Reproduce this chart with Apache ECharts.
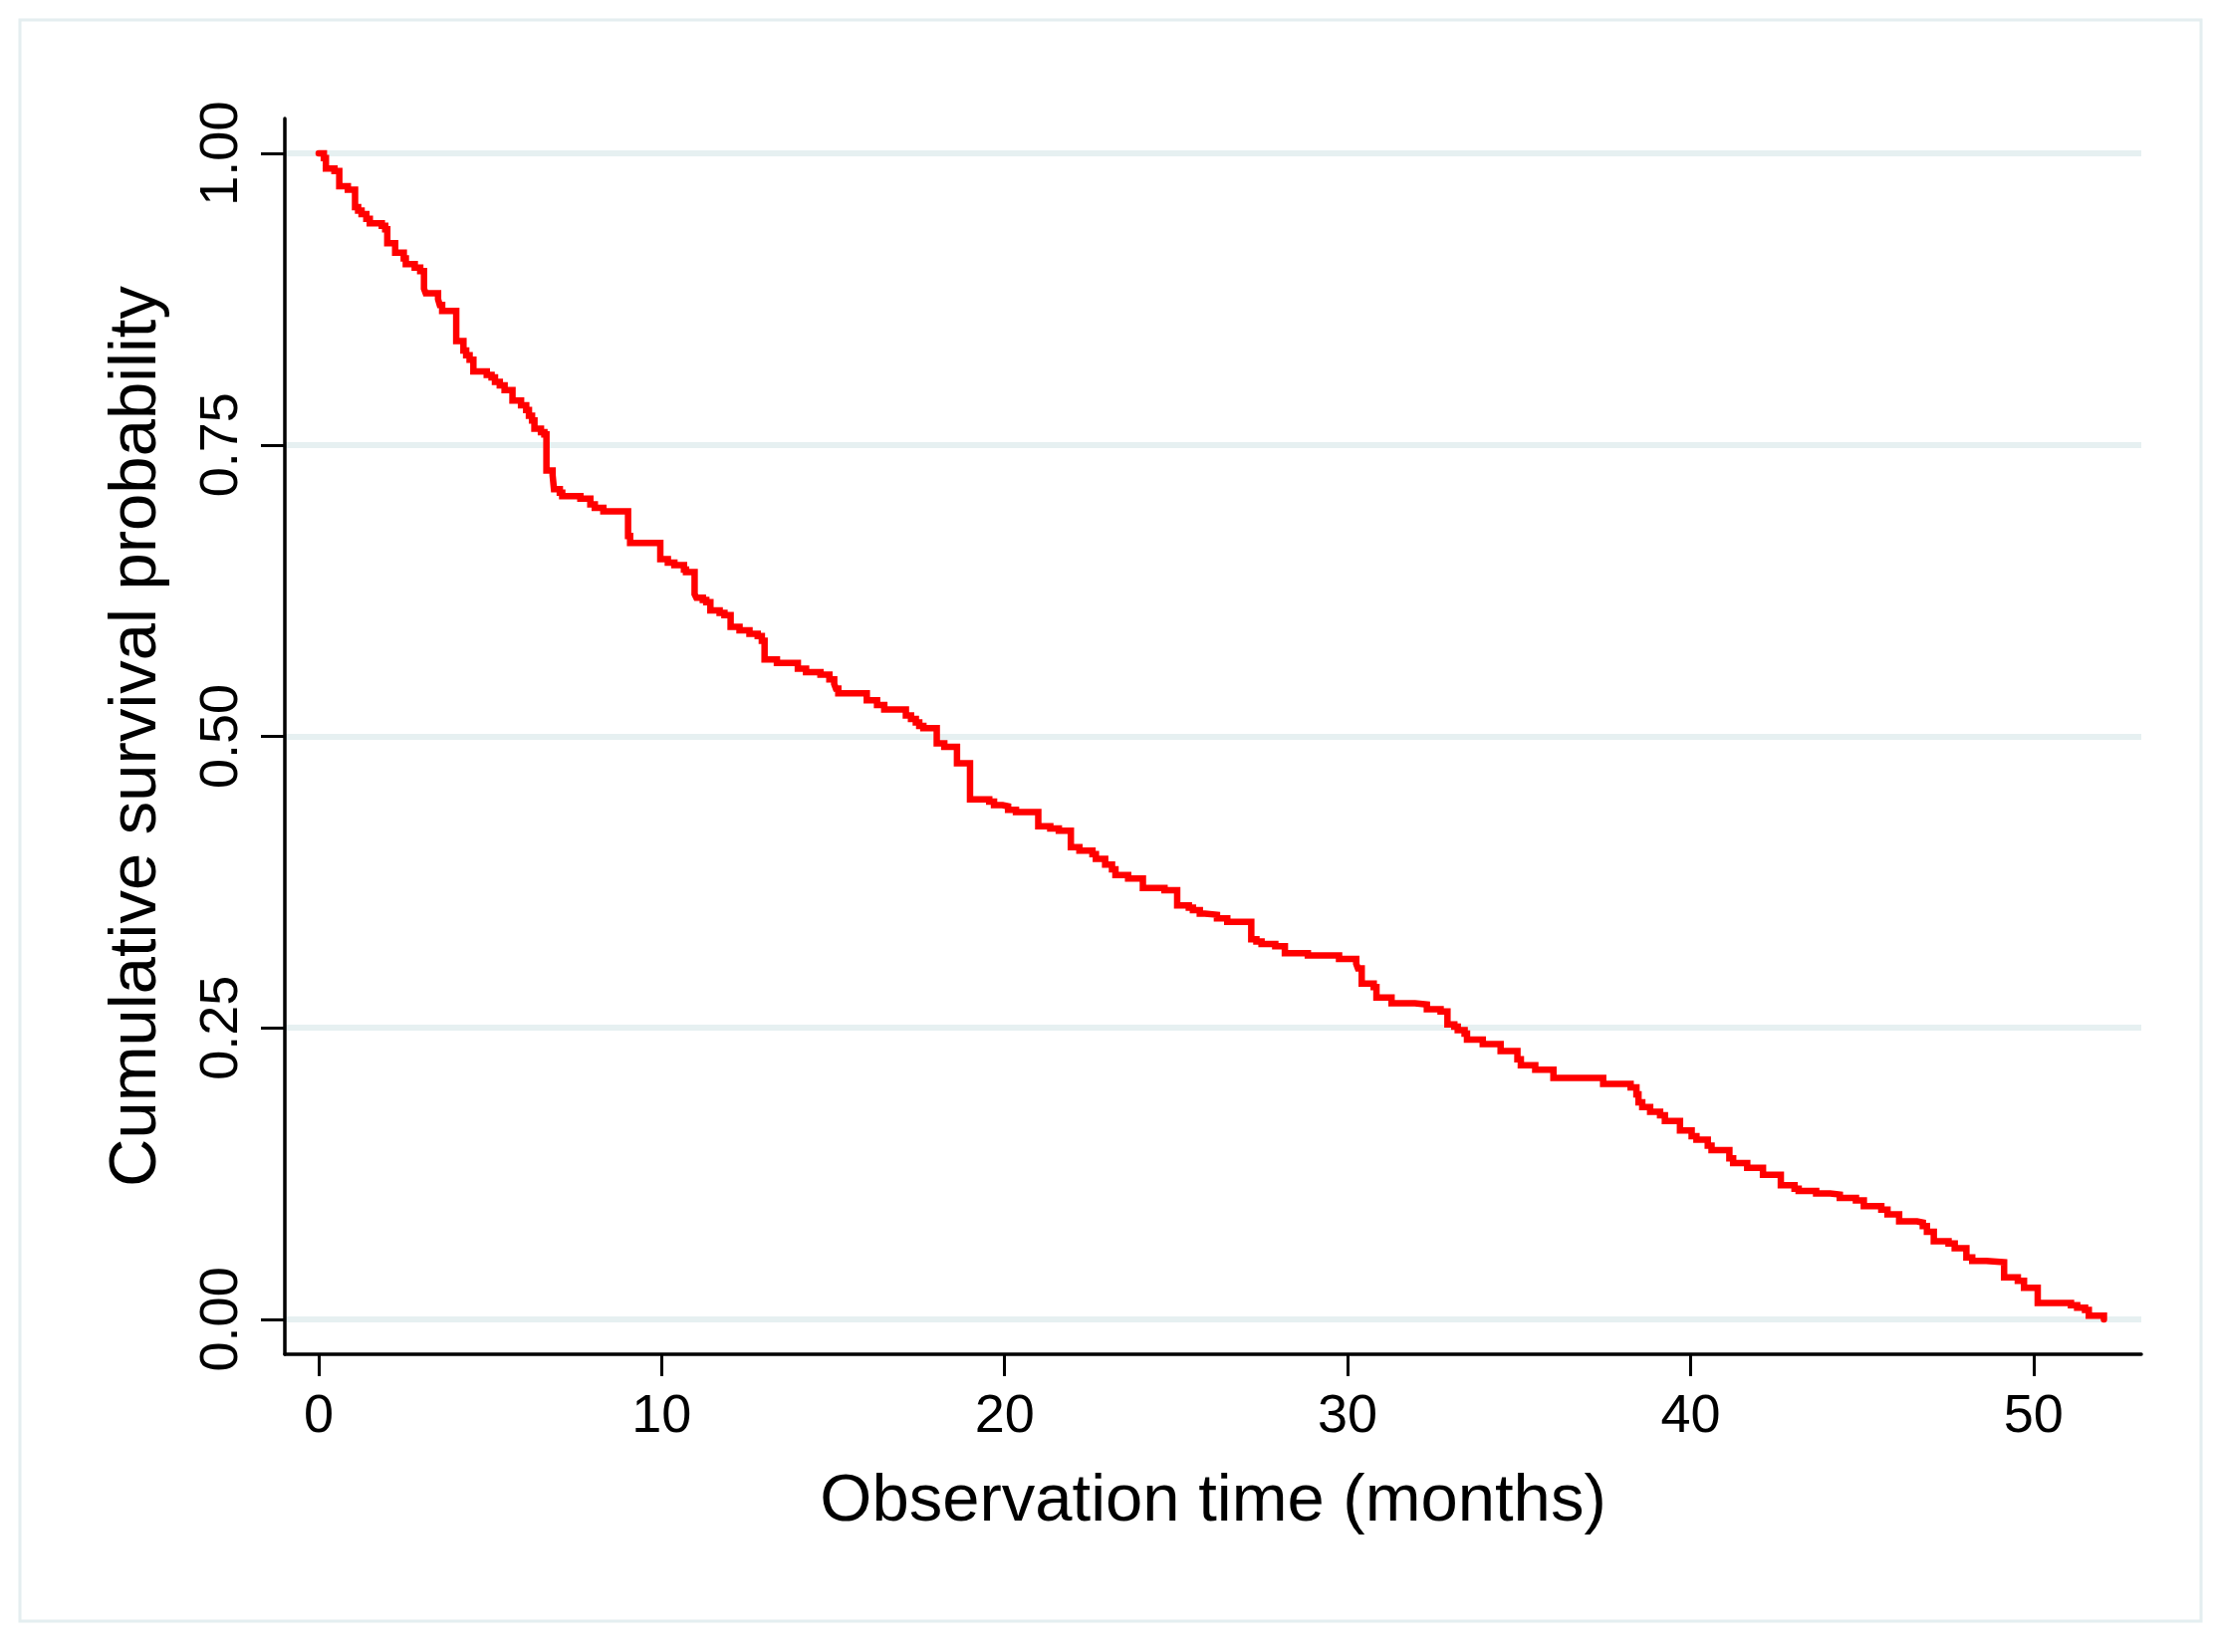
<!DOCTYPE html>
<html>
<head>
<meta charset="utf-8">
<title>Kaplan-Meier survival</title>
<script src="https://cdn.jsdelivr.net/npm/echarts@6/dist/echarts.min.js"></script>
<style>
  html, body { margin: 0; padding: 0; background: #ffffff; }
  #chart { width: 2223px; height: 1659px; }
</style>
</head>
<body>
<div id="chart"></div>
<script>
// Event times (months) and survival probability after each step
const times = [
  0, 0.15, 0.21, 0.46, 0.60, 0.85, 1.06, 1.15, 1.25, 1.39, 1.49, 1.84, 1.94, 2.00, 2.23, 2.48, 2.54, 2.80, 2.96,
  3.07, 3.12, 3.48, 3.53, 3.60, 4.01, 4.22, 4.30, 4.40, 4.51, 4.90, 5.04, 5.14, 5.28, 5.42, 5.65, 5.90, 6.05,
  6.13, 6.22, 6.29, 6.48, 6.58, 6.64, 6.82, 6.86, 7.03, 7.10, 7.63, 7.92, 8.05, 8.30, 9.02, 9.08, 9.96,
  10.18, 10.37, 10.65, 10.71, 10.96, 11.01, 11.20, 11.30, 11.42, 11.69, 11.83, 12.01, 12.27, 12.56, 12.80, 12.92,
  13.00, 13.36, 13.97, 14.21, 14.63, 14.89, 15.03, 15.08, 15.15, 15.98, 16.28, 16.49, 17.12, 17.27, 17.41, 17.51,
  17.63, 18.02, 18.24, 18.61, 18.99, 19.55, 19.69, 19.94,
  20.10, 20.33, 20.98, 21.33, 21.58, 21.93, 22.18, 22.56, 22.66, 22.93, 23.13, 23.23, 23.60, 24.03, 24.66, 25.03,
  25.37, 25.49, 25.69, 25.84, 26.19, 26.49, 27.19, 27.34, 27.49, 27.89, 28.17, 28.84, 29.75, 30.25, 30.30,
  30.41, 30.76, 30.84, 31.28, 31.96, 32.31, 32.71, 32.91, 33.11, 33.21, 33.41, 33.48, 33.94, 34.46, 34.95, 35.05,
  35.47, 36.00, 37.45, 38.25, 38.42, 38.48, 38.59, 38.82, 39.11, 39.25, 39.69, 40.03, 40.17, 40.50, 40.61, 41.13,
  41.24, 41.65, 42.11, 42.63, 43.03, 43.15, 43.66, 44.07, 44.35, 44.82, 45.05, 45.56, 45.74, 46.08, 46.60, 46.77,
  46.89, 47.09, 47.52, 47.70, 48.04, 48.21, 48.62, 49.14, 49.54, 49.72, 50.12, 51.09, 51.27, 51.50, 51.61, 52.05
];
const survival = [
  1.000, 0.996, 0.987, 0.985, 0.972, 0.969, 0.954, 0.951, 0.948, 0.944, 0.940, 0.938, 0.935, 0.923, 0.915, 0.910, 0.905, 0.902, 0.899,
  0.884, 0.880, 0.875, 0.870, 0.865, 0.839, 0.831, 0.827, 0.823, 0.813, 0.810, 0.808, 0.804, 0.801, 0.797, 0.788, 0.784, 0.780,
  0.775, 0.771, 0.764, 0.761, 0.759, 0.728, 0.724, 0.712, 0.709, 0.706, 0.704, 0.699, 0.696, 0.693, 0.672, 0.666, 0.652,
  0.649, 0.647, 0.643, 0.641, 0.622, 0.619, 0.617, 0.615, 0.608, 0.606, 0.604, 0.594, 0.591, 0.588, 0.586, 0.582,
  0.566, 0.563, 0.558, 0.555, 0.553, 0.549, 0.545, 0.541, 0.537, 0.531, 0.527, 0.523, 0.518, 0.515, 0.512, 0.509,
  0.507, 0.494, 0.491, 0.477, 0.446, 0.444, 0.441, 0.440,
  0.437, 0.435, 0.423, 0.421, 0.419, 0.405, 0.402, 0.399, 0.395, 0.390, 0.386, 0.381, 0.378, 0.370, 0.368, 0.355,
  0.353, 0.351, 0.348, 0.347, 0.344, 0.341, 0.326, 0.324, 0.322, 0.320, 0.314, 0.312, 0.309, 0.305, 0.301,
  0.288, 0.285, 0.276, 0.271, 0.270, 0.266, 0.264, 0.253, 0.251, 0.248, 0.245, 0.240, 0.236, 0.230, 0.223, 0.218,
  0.214, 0.207, 0.202, 0.199, 0.193, 0.186, 0.182, 0.178, 0.175, 0.170, 0.162, 0.157, 0.154, 0.149, 0.145, 0.138,
  0.134, 0.130, 0.124, 0.115, 0.112, 0.110, 0.108, 0.107, 0.104, 0.102, 0.097, 0.094, 0.090, 0.084, 0.083, 0.080,
  0.075, 0.067, 0.065, 0.061, 0.053, 0.050, 0.049, 0.036, 0.033, 0.027, 0.014, 0.012, 0.010, 0.008, 0.003, 0.000
];
const xTicks = [0, 10, 20, 30, 40, 50];
const yTicks = [0, 0.25, 0.5, 0.75, 1];
const xTitle = 'Observation time (months)';
const yTitle = 'Cumulative survival probability';

const seriesData = times.map((t, i) => [t, survival[i]]);
const FONT = '"Liberation Sans", Arial, Helvetica, sans-serif';

const chart = echarts.init(document.getElementById('chart'), null, { renderer: 'canvas' });
chart.setOption({
  backgroundColor: '#ffffff',
  animation: false,
  graphic: [{
    type: 'rect',
    shape: { x: 20, y: 20, width: 2190, height: 1608 },
    style: { fill: 'none', stroke: '#e4eef0', lineWidth: 3 },
    silent: true,
    z: 0
  }],
  grid: { left: 286, top: 119, right: 73, bottom: 299, containLabel: false },
  xAxis: {
    type: 'value',
    min: -0.987,
    max: 53.14,
    name: xTitle,
    nameLocation: 'middle',
    nameGap: 115,
    nameTextStyle: { fontFamily: FONT, fontSize: 67, color: '#000' },
    axisLine: { show: true, onZero: false, lineStyle: { color: '#000', width: 3.5 } },
    axisTick: { show: true, customValues: xTicks, length: 22, lineStyle: { color: '#000', width: 3 } },
    axisLabel: { customValues: xTicks, margin: 36, fontFamily: FONT, fontSize: 54, color: '#000',
      formatter: v => String(v) },
    splitLine: { show: false }
  },
  yAxis: {
    type: 'value',
    min: -0.03,
    max: 1.03,
    name: yTitle,
    nameLocation: 'middle',
    nameGap: 115,
    nameRotate: 90,
    nameTextStyle: { fontFamily: FONT, fontSize: 67, color: '#000' },
    axisLine: { show: true, onZero: false, lineStyle: { color: '#000', width: 3.5 } },
    axisTick: { show: true, customValues: yTicks, length: 24, lineStyle: { color: '#000', width: 3 } },
    axisLabel: { customValues: yTicks, rotate: 90, margin: 36, fontFamily: FONT, fontSize: 54, color: '#000',
      formatter: v => v.toFixed(2) },
    splitLine: { show: true, lineStyle: { color: '#e6f0f1', width: 6 } }
  },
  series: [{
    type: 'line',
    step: 'end',
    data: seriesData,
    symbol: 'none',
    z: 5,
    lineStyle: { color: '#ff0000', width: 6.5, cap: 'round', join: 'miter' }
  }]
});
</script>
</body>
</html>
